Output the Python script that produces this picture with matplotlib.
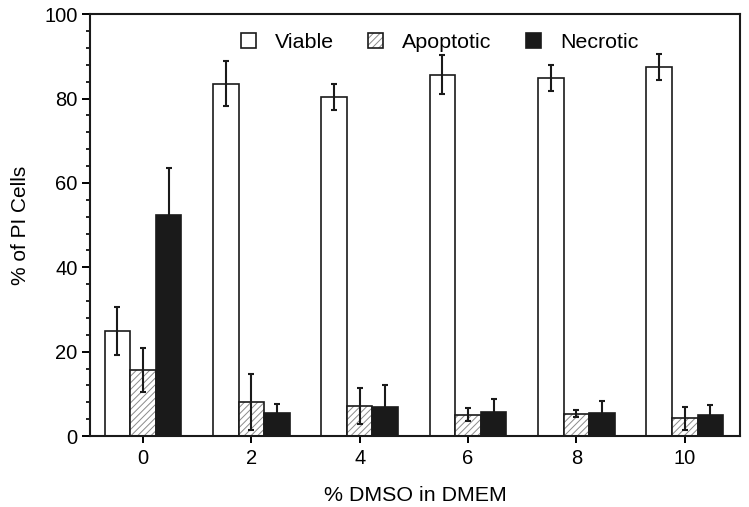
import numpy as np
import matplotlib
matplotlib.use("Agg")
import matplotlib.pyplot as plt
from matplotlib.patches import Patch
from matplotlib.ticker import MultipleLocator

plt.rcParams['font.family'] = ['Liberation Sans', 'DejaVu Sans']
plt.rcParams['font.size'] = 14.5
plt.rcParams['hatch.linewidth'] = 0.7

# % DMSO in DMEM
dmso = ["0", "2", "4", "6", "8", "10"]

viable = [24.9, 83.5, 80.4, 85.7, 84.9, 87.4]
viable_err = [5.7, 5.3, 3.0, 4.6, 3.0, 3.1]

apoptotic = [15.7, 8.0, 7.2, 5.1, 5.3, 4.2]
apoptotic_err = [5.2, 6.6, 4.3, 1.6, 0.8, 2.7]

necrotic = [52.3, 5.4, 6.8, 5.7, 5.5, 4.9]
necrotic_err = [11.2, 2.1, 5.3, 3.1, 2.9, 2.4]

x = np.arange(len(dmso))
w = 0.236
hatch_gray = "#8a8a8a"

fig = plt.figure(figsize=(7.49, 5.07), dpi=100)
ax = fig.add_axes([0.120, 0.140, 0.868, 0.832])

err_kw = dict(fmt="none", ecolor="#1a1a1a", elinewidth=1.5, capsize=2.2, capthick=1.5, zorder=5)

# viable: open bars
ax.bar(x - w, viable, w, facecolor="white", edgecolor="#1a1a1a", linewidth=1.2, zorder=2)
ax.errorbar(x - w, viable, yerr=viable_err, **err_kw)

# apoptotic: gray hatch with black outline
ax.bar(x, apoptotic, w, facecolor="white", edgecolor=hatch_gray, hatch="/////", linewidth=0, zorder=2)
ax.bar(x, apoptotic, w, facecolor="none", edgecolor="#1a1a1a", linewidth=1.2, zorder=3)
ax.errorbar(x, apoptotic, yerr=apoptotic_err, **err_kw)

# necrotic: solid black
ax.bar(x + w, necrotic, w, facecolor="#1a1a1a", edgecolor="#1a1a1a", linewidth=1.2, zorder=2)
ax.errorbar(x + w, necrotic, yerr=necrotic_err, **err_kw)

ax.set_xlim(-0.49, 5.51)
ax.set_ylim(0, 100)
ax.set_xticks(x)
ax.set_xticklabels(dmso)
ax.yaxis.set_major_locator(MultipleLocator(20))
ax.yaxis.set_minor_locator(MultipleLocator(4))
ax.tick_params(axis="y", which="major", direction="out", length=6, width=1.4, pad=3)
ax.tick_params(axis="y", which="minor", direction="out", length=3, width=1.2)
ax.tick_params(axis="x", which="major", direction="out", length=5, width=1.4, pad=4)
for s in ax.spines.values():
    s.set_linewidth(1.5)
    s.set_color("#1a1a1a")

ax.set_xlabel("% DMSO in DMEM", fontsize=15.4, labelpad=13)
ax.set_ylabel("% of PI Cells", fontsize=15, labelpad=10)

h_viable = Patch(facecolor="white", edgecolor="#1a1a1a", linewidth=1.2)
h_apo = (Patch(facecolor="white", edgecolor=hatch_gray, hatch="/////", linewidth=0),
         Patch(facecolor="none", edgecolor="#1a1a1a", linewidth=1.2))
h_nec = Patch(facecolor="#1a1a1a", edgecolor="#1a1a1a", linewidth=1.2)
ax.legend([h_viable, h_apo, h_nec], ["Viable", "Apoptotic", "Necrotic"],
          ncol=3, frameon=False, loc="center", bbox_to_anchor=(0.538, 0.933),
          fontsize=15.4, handlelength=0.7, handleheight=0.7,
          handletextpad=0.9, columnspacing=1.6)

fig.savefig("out.png", dpi=100)
